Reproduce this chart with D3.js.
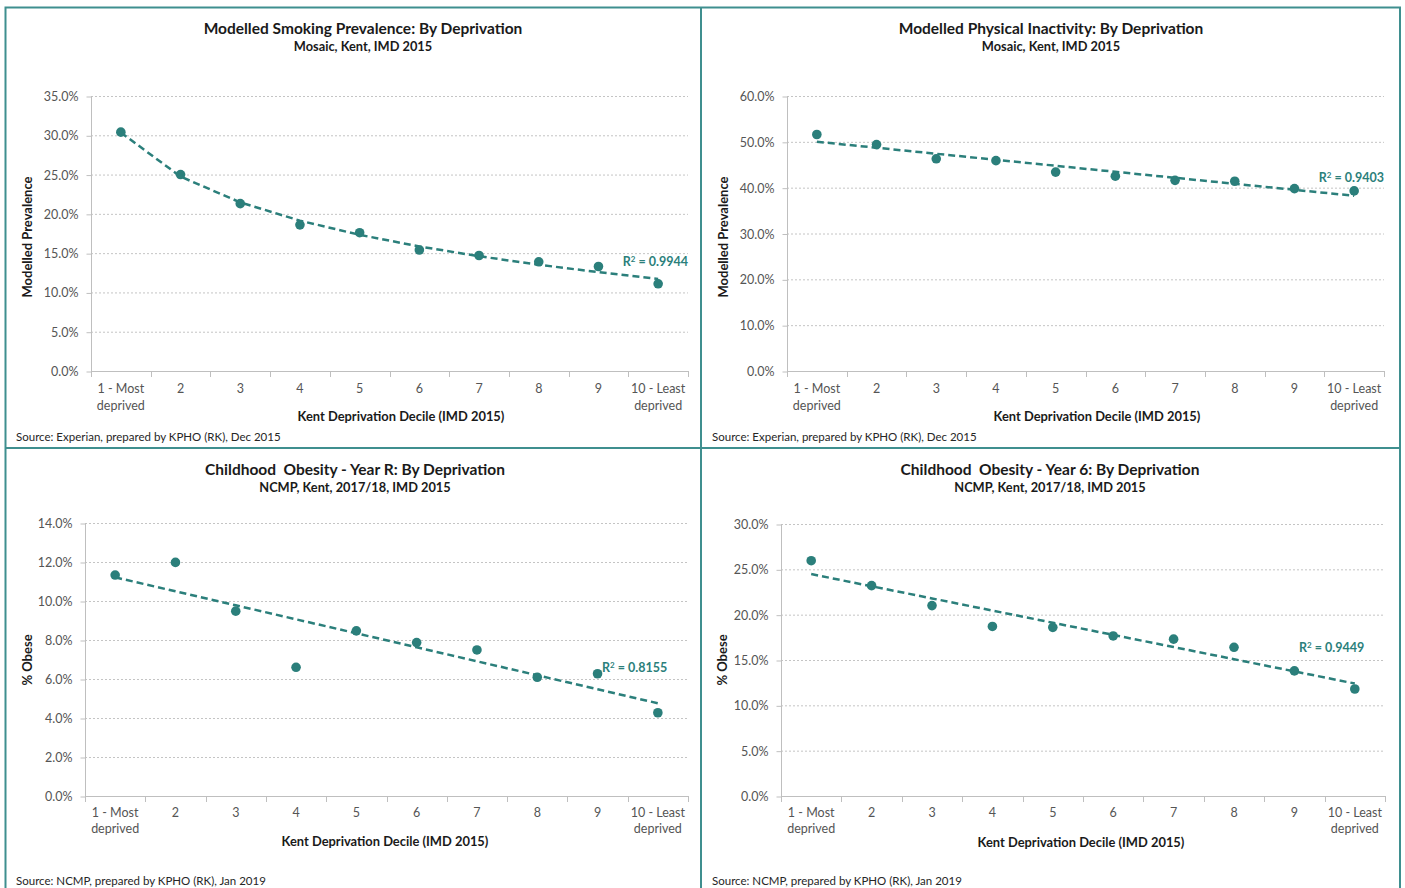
<!DOCTYPE html>
<html>
<head>
<meta charset="utf-8">
<script src="https://cdn.jsdelivr.net/npm/d3@7"></script>
<style>
  html, body { margin: 0; padding: 0; background: #fff; }
  svg { display: block; font-family: Lato, "Open Sans", sans-serif; }
</style>
</head>
<body>
<svg id="chart" width="1405" height="888"></svg>
<script>
/* Kent deprivation charts, 2x2 panel */

// Shared x categories
var DECILES = ["1 - Most|deprived", "2", "3", "4", "5", "6", "7", "8", "9", "10 - Least|deprived"];

// Series values (percent)
var SMOKING = [30.4, 25.0, 21.3, 18.6, 17.6, 15.4, 14.7, 13.9, 13.3, 11.1];
var INACTIVITY = [51.6, 49.4, 46.3, 45.9, 43.4, 42.5, 41.6, 41.4, 39.8, 39.3];
var OBESITY_R = [11.33, 11.98, 9.48, 6.6, 8.47, 7.87, 7.49, 6.09, 6.27, 4.27];
var OBESITY_Y6 = [25.95, 23.2, 21.0, 18.7, 18.6, 17.65, 17.3, 16.4, 13.8, 11.8];

// y tick values
var SMOKING_TICKS = [0, 5, 10, 15, 20, 25, 30, 35];
var INACTIVITY_TICKS = [0, 10, 20, 30, 40, 50, 60];
var OBESITY_R_TICKS = [0, 2, 4, 6, 8, 10, 12, 14];
var OBESITY_Y6_TICKS = [0, 5, 10, 15, 20, 25, 30];

// Texts
var TITLES = ["Modelled Smoking Prevalence: By Deprivation", "Modelled Physical Inactivity: By Deprivation",
              "Childhood  Obesity - Year R: By Deprivation", "Childhood  Obesity - Year 6: By Deprivation"];
var SUBTITLES = ["Mosaic, Kent, IMD 2015", "Mosaic, Kent, IMD 2015", "NCMP, Kent, 2017/18, IMD 2015", "NCMP, Kent, 2017/18, IMD 2015"];
var Y_LABELS = ["Modelled Prevalence", "Modelled Prevalence", "% Obese", "% Obese"];
var X_LABEL = "Kent Deprivation Decile (IMD 2015)";
var SOURCES = ["Source: Experian, prepared by KPHO (RK), Dec 2015", "Source: Experian, prepared by KPHO (RK), Dec 2015",
               "Source: NCMP, prepared by KPHO (RK), Jan 2019", "Source: NCMP, prepared by KPHO (RK), Jan 2019"];
var R2_LABELS = ["0.9944", "0.9403", "0.8155", "0.9449"];
var TREND_TYPES = ["log", "linear", "linear", "linear"];

var TEAL = "#2b7f7b";
var FRAME = "#3f8f8f";

var svg = d3.select("#chart");

// Layout of each panel (pixels)
var LAYOUT = [
  { left: 91, right: 688, top: 96, bottom: 371, titleX: 363, titleY: 29, ylabX: 27, ylabY: 237, xtitleX: 401, xtitleY: 416, srcX: 16, srcY: 437, r2X: 688, r2Y: 262, r2Anchor: "end", lab1: 18, lab2: 35 },
  { left: 787, right: 1384, top: 96, bottom: 371, titleX: 1051, titleY: 29, ylabX: 723, ylabY: 237, xtitleX: 1097, xtitleY: 416, srcX: 712, srcY: 437, r2X: 1384, r2Y: 178, r2Anchor: "end", lab1: 18, lab2: 35 },
  { left: 85, right: 688, top: 523, bottom: 796, titleX: 355, titleY: 470, ylabX: 27, ylabY: 660, xtitleX: 385, xtitleY: 841, srcX: 16, srcY: 881, r2X: 602, r2Y: 668, r2Anchor: "start", lab1: 17, lab2: 33 },
  { left: 781, right: 1385, top: 524, bottom: 796, titleX: 1050, titleY: 470, ylabX: 722, ylabY: 660, xtitleX: 1081, xtitleY: 842, srcX: 712, srcY: 881, r2X: 1299, r2Y: 648, r2Anchor: "start", lab1: 17, lab2: 33 }
];

var SERIES = [SMOKING, INACTIVITY, OBESITY_R, OBESITY_Y6];
var TICKS = [SMOKING_TICKS, INACTIVITY_TICKS, OBESITY_R_TICKS, OBESITY_Y6_TICKS];

// Least squares trend (linear or logarithmic in x), same as the spreadsheet trendline
function fitTrend(values, type) {
  var xs = values.map(function(d, i) { return type === "log" ? Math.log(i + 1) : i + 1; });
  var mx = d3.mean(xs), my = d3.mean(values);
  var sxy = d3.sum(xs, function(x, i) { return (x - mx) * (values[i] - my); });
  var sxx = d3.sum(xs, function(x) { return (x - mx) * (x - mx); });
  var b = sxy / sxx, a = my - b * mx;
  return values.map(function(d, i) { return a + b * xs[i]; });
}

// Panel frames
var frame = svg.append("g").attr("fill", "none").attr("stroke", FRAME).attr("stroke-width", 2);
frame.append("path").attr("d", "M5.5,900 V7.5 H1400 V900");
frame.append("line").attr("x1", 701).attr("x2", 701).attr("y1", 7).attr("y2", 900);
frame.append("line").attr("x1", 5).attr("x2", 1400).attr("y1", 448).attr("y2", 448);

LAYOUT.forEach(function(L, p) {
  var values = SERIES[p];
  var ticks = TICKS[p];
  var g = svg.append("g");

  var x = d3.scaleBand().domain(DECILES).range([L.left, L.right]);
  var y = d3.scaleLinear().domain([0, d3.max(ticks)]).range([L.bottom, L.top]);
  var cx = function(i) { return x(DECILES[i]) + x.bandwidth() / 2; };

  // gridlines
  g.append("g").selectAll("line").data(ticks.filter(function(t) { return t > 0; })).enter().append("line")
    .attr("x1", L.left).attr("x2", L.right)
    .attr("y1", function(t) { return y(t) + 0.5; }).attr("y2", function(t) { return y(t) + 0.5; })
    .attr("stroke", "#c4c4c4").attr("stroke-width", 1).attr("stroke-dasharray", "2,2");

  // y axis
  var yAxis = g.append("g").attr("transform", "translate(" + (L.left + 0.5) + ",0.5)")
    .call(d3.axisLeft(y).tickValues(ticks).tickSize(5).tickPadding(8)
      .tickFormat(function(t) { return t.toFixed(1) + "%"; }));
  yAxis.select(".domain").attr("stroke", "#bfbfbf").attr("d", "M0," + L.top + "V" + L.bottom);
  yAxis.selectAll(".tick line").attr("stroke", "#bfbfbf");
  yAxis.selectAll(".tick text").attr("fill", "#555").attr("font-size", "12.5px")
    .attr("font-family", "Lato, sans-serif");

  // x axis baseline and ticks at band edges
  g.append("line").attr("x1", L.left).attr("x2", L.right + 1)
    .attr("y1", L.bottom + 0.5).attr("y2", L.bottom + 0.5).attr("stroke", "#bfbfbf");
  var edges = DECILES.map(function(d) { return x(d); }).concat([L.right]);
  g.append("g").selectAll("line").data(edges).enter().append("line")
    .attr("x1", function(d) { return Math.round(d) + 0.5; }).attr("x2", function(d) { return Math.round(d) + 0.5; })
    .attr("y1", L.bottom).attr("y2", L.bottom + 6).attr("stroke", "#bfbfbf");

  // x tick labels (two lines where needed)
  var xl = g.append("g").attr("fill", "#555").attr("font-size", "12.5px").attr("text-anchor", "middle");
  DECILES.forEach(function(d, i) {
    d.split("|").forEach(function(line, k) {
      xl.append("text").attr("x", cx(i)).attr("y", L.bottom + (k === 0 ? L.lab1 : L.lab2))
        .attr("dy", "0.35em").text(line);
    });
  });

  // trend line
  var trend = fitTrend(values, TREND_TYPES[p]);
  g.append("path").datum(trend)
    .attr("d", d3.line().x(function(d, i) { return cx(i); }).y(function(d) { return y(d); }))
    .attr("fill", "none").attr("stroke", TEAL).attr("stroke-width", 2.5).attr("stroke-dasharray", "7,4");

  // points
  g.append("g").selectAll("circle").data(values).enter().append("circle")
    .attr("cx", function(d, i) { return cx(i); }).attr("cy", function(d) { return y(d); })
    .attr("r", 4.8).attr("fill", TEAL);

  // R squared label
  var r2 = g.append("text").attr("x", L.r2X).attr("y", L.r2Y).attr("dy", "0.35em")
    .attr("text-anchor", L.r2Anchor).attr("fill", TEAL).attr("font-weight", "bold").attr("font-size", "12.5px");
  r2.append("tspan").text("R");
  r2.append("tspan").attr("font-size", "8px").attr("dy", "-4").text("2");
  r2.append("tspan").attr("dy", "4").text(" = " + R2_LABELS[p]);

  // titles
  g.append("text").attr("x", L.titleX).attr("y", L.titleY).attr("dy", "0.35em").attr("text-anchor", "middle")
    .attr("font-weight", "bold").attr("font-size", "15.5px").attr("fill", "#1a1a1a").style("white-space", "pre").text(TITLES[p]);
  g.append("text").attr("x", L.titleX).attr("y", L.titleY + 18).attr("dy", "0.35em").attr("text-anchor", "middle")
    .attr("font-weight", "bold").attr("font-size", "12.8px").attr("fill", "#1a1a1a").text(SUBTITLES[p]);

  // axis titles
  g.append("text").attr("transform", "translate(" + L.ylabX + "," + L.ylabY + ") rotate(-90)")
    .attr("dy", "0.35em").attr("text-anchor", "middle").attr("font-weight", "bold").attr("font-size", "13px")
    .attr("fill", "#1a1a1a").text(Y_LABELS[p]);
  g.append("text").attr("x", L.xtitleX).attr("y", L.xtitleY).attr("dy", "0.35em").attr("text-anchor", "middle")
    .attr("font-weight", "bold").attr("font-size", "12.9px").attr("fill", "#1a1a1a").text(X_LABEL);

  // source note
  g.append("text").attr("x", L.srcX).attr("y", L.srcY).attr("dy", "0.35em")
    .attr("font-size", "11.5px").attr("fill", "#262626").text(SOURCES[p]);
});
</script>
</body>
</html>
